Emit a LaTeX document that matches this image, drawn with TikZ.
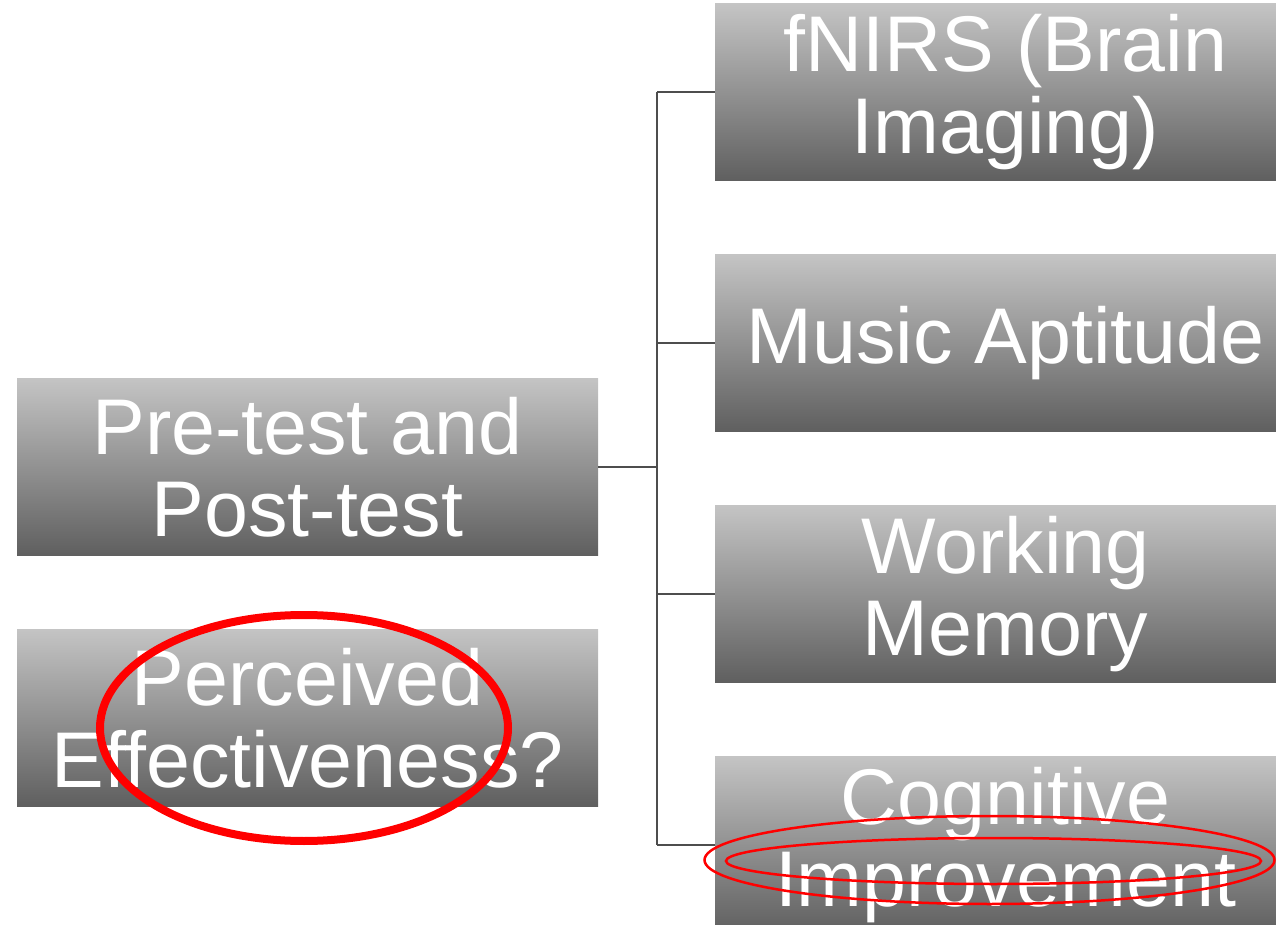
\documentclass[tikz,border=0pt]{standalone}
\usepackage{fontspec}
\setmainfont{Liberation Sans}
\usepackage{tikz}
\usetikzlibrary{positioning}
\definecolor{boxtop}{RGB}{196,196,196}
\definecolor{boxbottom}{RGB}{95,95,95}
\definecolor{treeline}{RGB}{77,77,77}
\definecolor{markred}{RGB}{255,0,0}
\tikzstyle{measure} = [rectangle, minimum width=290.5pt, minimum height=88.5pt, inner sep=0pt, text centered, align=center, top color=boxtop, bottom color=boxbottom, text=white, font=\fontsize{39.5pt}{41pt}\selectfont]
\tikzstyle{branch} = [line width=1pt, color=treeline]
\tikzstyle{circled} = [color=markred]

\begin{document}
\begin{tikzpicture}[x=0.5pt, y=-0.5pt, node distance=36.5pt]
\useasboundingbox (0,0) rectangle (1276,925);
\clip (0,0) rectangle (1276,925);
% Boxes
\node (pretest) [measure] at (307.5,467) {Pre-test and\\Post-test};
\node (perceived) [measure, below=of pretest] {Perceived\\Effectiveness?};
\node (fnirs) [measure] at (1005.5,92.5) {fNIRS (Brain\\Imaging)};
\node (music) [measure, below=of fnirs] {Music Aptitude};
\node (working) [measure, below=of music] {Working\\Memory};
\node (cognitive) [measure, below=of working] {Cognitive\\Improvement};

% Lines
\coordinate (fork) at (657,467);
\draw[branch] (pretest.east) -- (fork);
\draw[branch] (fork |- fnirs.west) -- (fork |- cognitive.west);
\draw[branch] (fork |- fnirs.west) -- (fnirs.west);
\draw[branch] (fork |- music.west) -- (music.west);
\draw[branch] (fork |- working.west) -- (working.west);
\draw[branch] (fork |- cognitive.west) -- (cognitive.west);

% Marks
\draw[circled, line width=4pt] (304,728) ellipse [x radius=102pt, y radius=56.5pt];
\draw[circled, line width=1.25pt] (989.5,860) ellipse [x radius=142.5pt, y radius=22pt];
\draw[circled, line width=1.25pt] (993.5,861) ellipse [x radius=133.75pt, y radius=11.5pt];
\end{tikzpicture}
\end{document}
